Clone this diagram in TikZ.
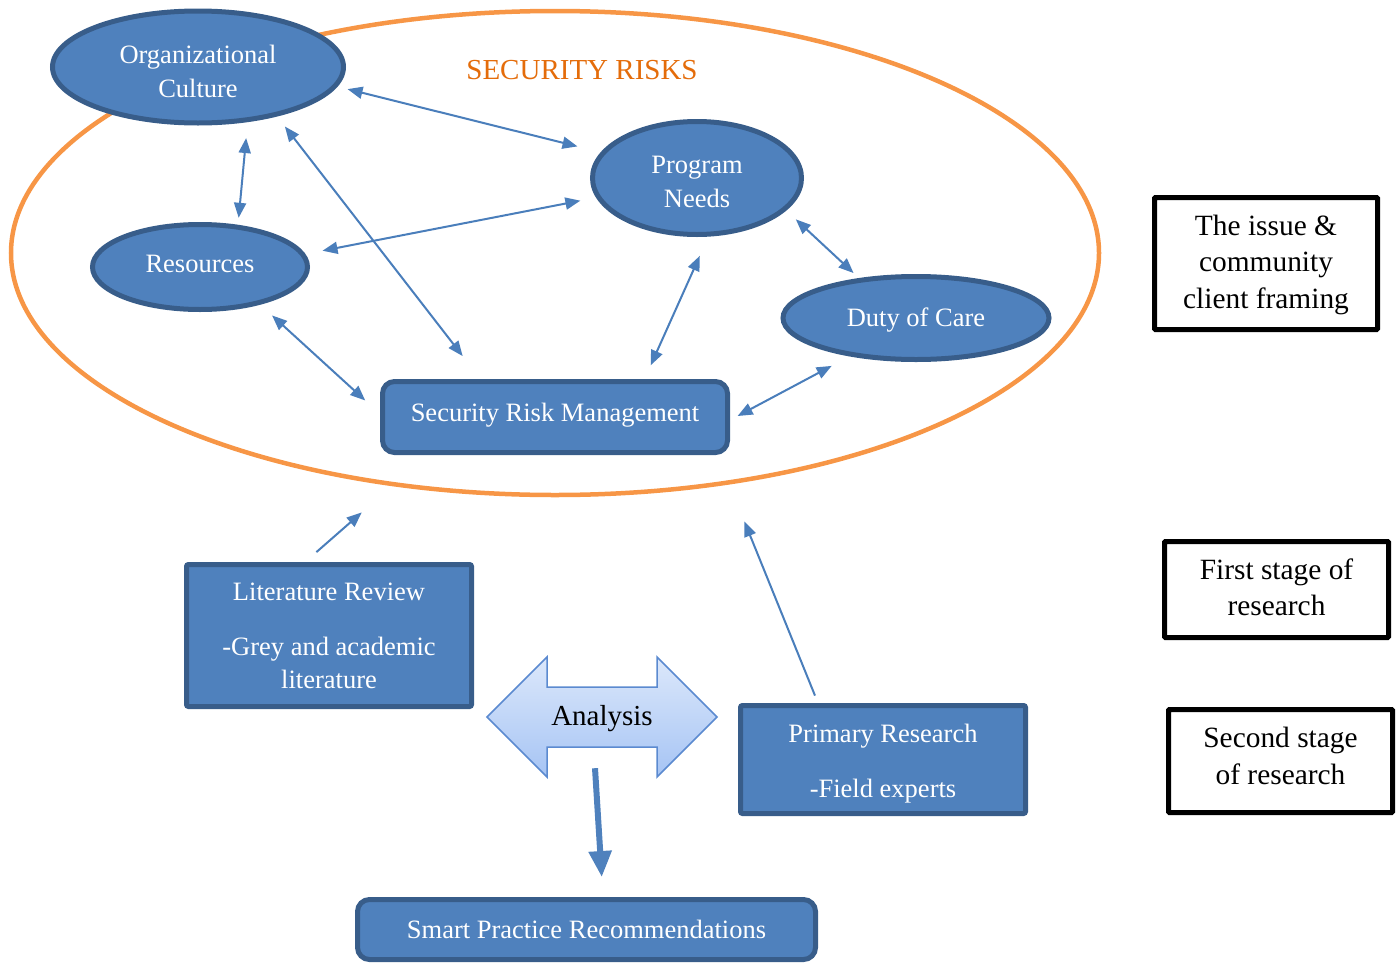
\documentclass[tikz,border=0pt]{standalone}
\usepackage{fontspec}
\setmainfont{Liberation Serif}
\usetikzlibrary{shapes.geometric,arrows.meta,calc}
\definecolor{nodefill}{HTML}{4F81BD}
\definecolor{nodeline}{HTML}{385D8A}
\definecolor{riskline}{HTML}{F79646}
\definecolor{risktext}{HTML}{E46C0A}
\definecolor{linkcol}{HTML}{4A7EBB}
\definecolor{anatop}{HTML}{DCE8FB}
\definecolor{anabot}{HTML}{A6C4F4}
\definecolor{anaborder}{HTML}{5B8AD0}
\begin{document}
\begin{tikzpicture}[x=1pt,y=-1pt,
  bodyfont/.style={font=\fontsize{26.5}{34}\selectfont},
  wtext/.style={text=white, align=center, inner sep=0pt, bodyfont},
  btext/.style={text=black, align=center, inner sep=0pt, font=\fontsize{29.4}{36.5}\selectfont},
  oval/.style={ellipse, draw=nodeline, fill=nodefill, line width=5pt, inner sep=0pt},
  bluebox/.style={rectangle, draw=nodeline, fill=nodefill, line width=5pt, inner sep=0pt},
  notebox/.style={rectangle, draw=black, fill=white, line width=5pt, inner sep=0pt},
  link/.style={draw=linkcol, line width=2pt, >={Triangle[width=12pt,length=15pt]}},
  bigarrow/.style={draw=nodefill, line width=6pt, -{Triangle[width=22pt,length=26pt]}}
]
\useasboundingbox (0,0) rectangle (1400,964);

% outer risk ellipse
\node[ellipse, draw=riskline, line width=4.5pt, minimum width=1088pt, minimum height=484pt, inner sep=0pt] (risks) at (555,253) {};
\node[text=risktext, font=\fontsize{29}{34}\selectfont, inner sep=0pt] (title) at (582,70) {SECURITY RISKS};

% ellipses
\node[oval, minimum width=291pt, minimum height=112pt,
  label={[wtext, yshift=-4pt]center:{Organizational\\Culture}}] (oc) at (198,67) {};
\node[oval, minimum width=209pt, minimum height=113pt,
  label={[wtext, yshift=-4pt]center:{Program\\Needs}}] (pn) at (697,178) {};
\node[oval, minimum width=215pt, minimum height=85pt,
  label={[wtext, yshift=3pt]center:{Resources}}] (res) at (200,267) {};
\node[oval, minimum width=266pt, minimum height=83pt,
  label={[wtext, yshift=-2pt]center:{Duty of Care}}] (duty) at (916,318) {};

% boxes
\node[bluebox, rounded corners=12pt, minimum width=345pt, minimum height=71pt,
  label={[wtext, yshift=2pt]center:{Security Risk Management}}] (srm) at (555,417) {};
\node[bluebox, rounded corners=2pt, minimum width=285pt, minimum height=142pt,
  label={[wtext]center:{Literature Review\\[21pt]-Grey and academic\\[-1pt]literature}}] (lit) at (329,635.5) {};
\node[bluebox, rounded corners=2pt, minimum width=285pt, minimum height=108pt,
  label={[wtext, yshift=-4pt]center:{Primary Research\\[21pt]-Field experts}}] (prim) at (883,759.5) {};
\node[bluebox, rounded corners=12pt, minimum width=458pt, minimum height=60pt,
  label={[wtext]center:{Smart Practice Recommendations}}] (smart) at (586.5,929.5) {};

% right-hand notes
\node[notebox, rounded corners=1pt, minimum width=223pt, minimum height=132pt,
  label={[btext, yshift=-1pt]center:{The issue \&\\community\\client framing}}] (issue) at (1266,263.5) {};
\node[notebox, rounded corners=1pt, minimum width=224pt, minimum height=96pt,
  label={[btext, yshift=2pt]center:{First stage of\\research}}] (first) at (1276.5,589.5) {};
\node[notebox, rounded corners=1pt, minimum width=224pt, minimum height=103pt,
  label={[btext, yshift=5pt]center:{Second stage\\of research}}] (second) at (1280.5,761) {};

% analysis double arrow
\path[draw=anaborder, line width=1.5pt, top color=anatop, bottom color=anabot, line join=miter]
  (487,717) -- (547,657) -- (547,687) -- (657,687) -- (657,657) -- (717,717)
  -- (657,777) -- (657,747) -- (547,747) -- (547,777) -- cycle;
\node[minimum width=230pt, minimum height=102pt, inner sep=0pt,
  label={[text=black, inner sep=0pt, font=\fontsize{29}{34}\selectfont, yshift=-2pt]center:{Analysis}}] (analysis) at (602,717) {};

% connectors
\draw[link, <->, shorten <=10.4pt, shorten >=24pt] (oc.-8.4) -- (pn.165.1);
\draw[link, <->, shorten <=16pt, shorten >=7pt] (oc.-48.1) -- (res.48.1);
\draw[link, <->, shorten <=12.7pt, shorten >=29pt] (oc.-32) -- (srm.153.4);
\draw[link, <->, shorten <=17.5pt, shorten >=16pt] (res.7.4) -- (pn.191.5);
\draw[link, <->, shorten <=16pt, shorten >=20pt] (res.-32.6) -- (srm.179);
\draw[link, <->, shorten <=21pt, shorten >=15pt] (pn.-79.5) -- (srm.23.4);
\draw[link, <->, shorten <=13pt, shorten >=7.4pt] (pn.-20.2) -- (duty.145.4);
\draw[link, <->, shorten <=8.6pt, shorten >=20.3pt] (srm.-1.65) -- (duty.210.7);
\draw[link, ->, shorten <=15pt, shorten >=40pt] (lit.108.9) -- (risks.-125.9);
\draw[link, ->, shorten <=8pt, shorten >=40pt] (prim.139.9) -- (risks.-53.5);
\draw[bigarrow, shorten >=20pt] ([xshift=-7pt]analysis.south) -- ([xshift=16.5pt]smart.north);
\end{tikzpicture}
\end{document}
